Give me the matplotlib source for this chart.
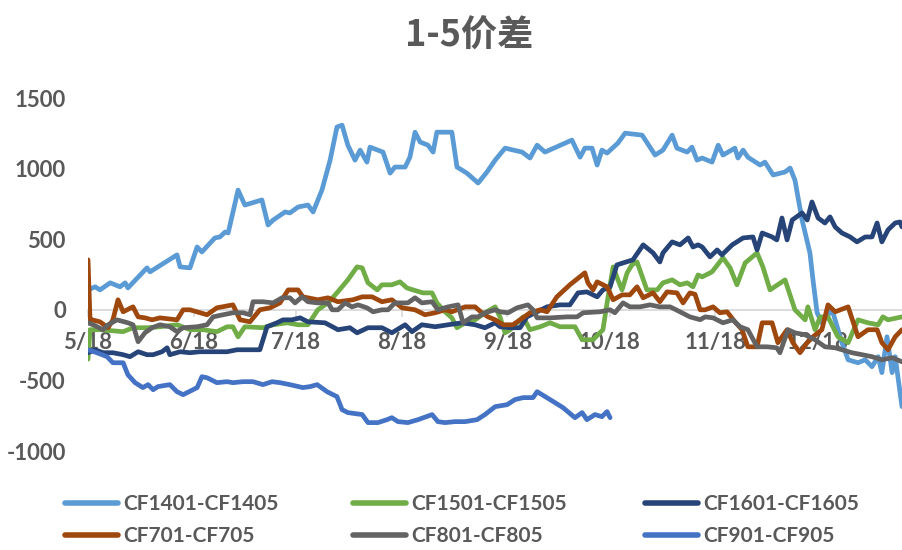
import matplotlib
matplotlib.use("Agg")
import matplotlib.pyplot as plt
from matplotlib.lines import Line2D

plt.rcParams['font.family'] = ['Lato', 'Noto Sans CJK SC', 'DejaVu Sans']
plt.rcParams['font.weight'] = 'bold'
plt.rcParams['axes.unicode_minus'] = False

TXT = '#595959'

# x axis: days counted from 5/18
month_days = [0, 31, 61, 92, 123, 153, 184, 214]
month_labels = ['5/18', '6/18', '7/18', '8/18', '9/18', '10/18', '11/18', '12/18']

# (day, spread) pairs
cf1401 = [(0, 141), (2.1, 163), (3.5, 141), (6.5, 191), (9.4, 163), (10.9, 191), (11.7, 155),
          (17.3, 297), (18.2, 269), (26.1, 389), (27, 304), (29.9, 297), (32, 445), (33.4, 410),
          (37.2, 509), (38.7, 516), (40.2, 551), (41.1, 544), (44, 848), (46, 742), (51, 778),
          (52.8, 601), (54.3, 636), (57.8, 693), (59.2, 686), (61.6, 728), (64.5, 742), (66, 693),
          (68.6, 848), (71, 1060), (73, 1294), (74.5, 1308), (76.2, 1166), (78.3, 1060),
          (79.8, 1131), (81.8, 1046), (82.7, 1152), (86.5, 1117), (88.6, 968), (90, 1011),
          (93, 1011), (94.4, 1081), (95.9, 1258), (97.4, 1188), (99.7, 1166), (101.2, 1117),
          (102.3, 1258), (106.7, 1258), (108.2, 1011), (111.1, 968), (114.4, 898), (117, 976),
          (119.4, 1060), (122.3, 1145), (127.3, 1117), (129.6, 1075), (131.7, 1166), (134, 1117),
          (141.9, 1202), (144.3, 1081), (145.7, 1145), (147.8, 1145), (149.3, 1025), (150.7, 1131),
          (152.2, 1110), (155.4, 1181), (157.5, 1251), (162.5, 1237), (166.3, 1096), (168.6, 1131),
          (171.3, 1237), (172.7, 1145), (175.7, 1117), (177.1, 1152), (178.6, 1060), (180.1, 1075),
          (183, 1046), (184.8, 1166), (186.2, 1096), (189.7, 1145), (190.6, 1075), (192.1, 1131),
          (193.5, 1081), (197.1, 1025), (198.5, 1046), (200.9, 955), (204.4, 976), (205.9, 1004),
          (207.3, 919), (209.4, 636), (211.7, 403), (212.6, 212), (213.8, -21), (215.2, -92),
          (218.2, 0), (221.1, -233), (222.9, -354), (225.8, -375), (227.9, -354), (229.9, -403),
          (231.7, -332), (232.8, -445), (234.3, -191), (235.8, -445), (236.7, -332), (238.7, -686)]

cf1501 = [(0, -350), (0.6, -141), (3.5, -141), (10.3, -155), (13.2, -127), (17.3, -127),
          (21.1, -120), (26.1, -106), (29.9, -141), (33.7, -141), (37.8, -155), (40.8, -120),
          (42.5, -120), (44, -191), (46, -120), (51.3, -127), (54.3, -106), (58.4, -92),
          (61.6, -106), (64.5, -106), (67.4, 0), (70.4, 49), (73, 120), (76.2, 212), (78.9, 304),
          (80.4, 297), (82.1, 191), (84.8, 141), (86.2, 177), (89.1, 177), (91.5, 198), (93.5, 155),
          (95.3, 141), (98.2, 120), (100.9, 120), (102.3, 49), (104.7, -14), (106.7, -57),
          (108.2, -127), (110.6, -92), (113.5, -71), (116.4, -21), (119.4, 21), (120.8, -50),
          (122.3, -163), (123.8, -141), (125.8, -92), (127.6, -50), (129.6, -141), (132.6, -120),
          (135.5, -92), (138.4, -120), (142.8, -120), (144.9, -212), (148.1, -212), (151, -141),
          (152.5, 92), (154, 304), (155.4, 212), (156.6, 141), (158.1, 262), (159.5, 318),
          (161, 339), (163.9, 141), (166.9, 141), (168.6, 191), (171.3, 212), (173.6, 177),
          (175.7, 191), (177.4, 163), (178.9, 247), (180.1, 233), (183, 269), (186.2, 368),
          (188.3, 297), (190.3, 177), (192.7, 332), (196.2, 403), (197.9, 304), (200, 141),
          (204.4, 212), (207.3, 0), (210.3, -71), (211.1, 21), (213.2, -141), (214.7, -50),
          (217, -50), (219.9, -191), (222.9, -233), (225.8, -71), (228.7, -92), (231.7, -106),
          (233.1, -50), (234.6, -71), (238.7, -50)]

cf1601 = [(0, -304), (2.1, -283), (4.4, -304), (7.3, -304), (10.3, -318), (12.3, -332),
          (14.7, -297), (17.3, -318), (19.1, -318), (21.7, -297), (23.2, -269), (24, -318),
          (27, -297), (29.9, -304), (32.8, -297), (36.7, -297), (40.8, -297), (43.7, -283),
          (46.6, -283), (50.4, -283), (52.5, -120), (55.4, -92), (57.2, -71), (59.8, -71),
          (62.2, -57), (64.5, -85), (69.5, -92), (73.3, -141), (76.8, -127), (78.9, -163),
          (82.1, -127), (86.2, -127), (89.1, -163), (93, -106), (95, -155), (97.9, -106),
          (101.8, -120), (105.6, -106), (109.7, -92), (113.5, -106), (116.4, -127), (119.4, -92),
          (120.8, -120), (123.8, -127), (126.7, -127), (128.7, -50), (131.7, -14), (134.6, 21),
          (138.4, 35), (141.3, 35), (143.7, 120), (146.3, 127), (149.3, 92), (151, 141),
          (153.1, 163), (155.1, 318), (156.9, 332), (159.8, 354), (162.8, 460), (165.7, 403),
          (167.7, 339), (168.6, 403), (171.3, 481), (173.6, 460), (176, 509), (177.4, 445),
          (178.9, 460), (180.1, 445), (182.4, 375), (184.5, 424), (185.9, 389), (188.9, 460),
          (192.1, 509), (195, 516), (196.2, 424), (197.7, 544), (200.6, 516), (202, 495),
          (203.5, 650), (205, 495), (206.5, 636), (209.4, 686), (210.9, 636), (212.3, 764),
          (214.1, 650), (216.1, 615), (217.6, 658), (219.1, 587), (221.1, 544), (223.5, 516),
          (225.5, 481), (227.9, 516), (229.9, 516), (231.4, 615), (232.8, 481), (234.6, 566),
          (236.7, 615), (238.1, 622), (238.7, 587)]

cf701 = [(0, 354), (0.6, -71), (1.2, -71), (3.5, -85), (5.9, -127), (7.3, -71), (8.8, 71),
         (10.3, -14), (13.2, 21), (14.7, -50), (16.7, -57), (18.8, -71), (21.1, -57), (26.1, -71),
         (27.9, 0), (29.9, 0), (34.9, -35), (37.8, 14), (42.5, 35), (44.6, -71), (47.5, -85),
         (50.4, 0), (53.4, 14), (56.3, 49), (58.7, 141), (61.6, 141), (63, 92), (67.4, 71),
         (70.4, 85), (73.3, 57), (77.7, 71), (80.4, 92), (83.3, 92), (86.2, 57), (89.1, 71),
         (92.1, 14), (95.9, 0), (98.8, -35), (101.8, -21), (104.7, 0), (106.7, -14), (110.6, 21),
         (113.5, 21), (115.5, -21), (117.3, -50), (119.4, -71), (121.7, -106), (124.6, -106),
         (126.7, -71), (129.6, -21), (132.6, 0), (134.6, -14), (137.5, 92), (141.3, 177),
         (145.7, 262), (146.6, 191), (148.1, 141), (149.3, 198), (152.2, 163), (154, 71),
         (156.6, 106), (158.9, 106), (161, 163), (162.8, 85), (165.7, 120), (167.7, 57),
         (169.8, 127), (172.7, 120), (174.5, 49), (176.5, 120), (178, 110), (179.5, 0), (181, 0),
         (183.3, 21), (185.3, -21), (187.4, -14), (189.7, -85), (191.8, -141), (193.5, -262),
         (196.2, -262), (197.7, -92), (200.6, -92), (202.3, -233), (205, -141), (206.7, -233),
         (208.8, -304), (210.9, -233), (212.6, -191), (215.2, -141), (217, 35), (219.1, -14),
         (222.9, 21), (225.8, -191), (228.7, -141), (231.4, -141), (232.8, -233), (234.6, -283),
         (236.7, -191), (238.7, -141)]

cf801 = [(0, -92), (1.5, -106), (4.4, -141), (5.9, -106), (8.5, -71), (11.7, -92), (13.2, -106),
         (14.7, -226), (16.7, -163), (18.8, -127), (21.1, -106), (24, -120), (26.1, -155),
         (27.9, -127), (32, -120), (34.9, -106), (36.7, -50), (39.6, -35), (42.5, -21),
         (45.5, -21), (47.5, -35), (48.4, 57), (51.3, 57), (54.3, 49), (56.9, 85), (59.2, 85),
         (60.7, 49), (62.8, 92), (64.5, 57), (67.4, 49), (70.4, 49), (71.6, 0), (73.3, 0),
         (75.4, 49), (77.4, 21), (79.2, 35), (81.8, 14), (83.6, -14), (86.2, 0), (88, 0),
         (90, 49), (93.8, 49), (95.9, 85), (97.9, 49), (100.9, 57), (102.6, 0), (105.6, 21),
         (108.5, 35), (110, -92), (112.6, -50), (114.4, -50), (116.4, -21), (119.4, 0),
         (120.8, -14), (123.2, -21), (125.8, 14), (129, 35), (130.5, 0), (131.7, -57),
         (135.5, -57), (140.5, -50), (143.4, -50), (145.2, -21), (150.1, -14), (153.1, 0),
         (154.5, -21), (156.9, 49), (158.9, 21), (161.9, 21), (164.8, 35), (167.7, 21),
         (170.7, 21), (173.6, -14), (176.5, -50), (179.5, -70), (181, -50), (183.3, -57),
         (186.2, -92), (189.1, -71), (191.2, -120), (193.5, -141), (196.2, -262), (199.1, -262),
         (202, -269), (202.9, -304), (205.3, -141), (207.3, -163), (210.3, -177), (213.2, -212),
         (216.1, -262), (219.1, -269), (221.1, -283), (224, -304), (227, -318), (229.9, -332),
         (232.8, -354), (235.8, -339), (238.7, -368)]

cf901 = [(0, -283), (2.6, -304), (5.6, -332), (7.3, -375), (10.3, -375), (11.7, -460),
         (13.8, -516), (16.1, -551), (17.6, -530), (19.1, -566), (20.5, -544), (24, -530),
         (26.1, -580), (27.9, -601), (32, -551), (33.4, -474), (34.9, -481), (37.8, -516),
         (40.8, -509), (42.5, -516), (45.5, -509), (48.4, -509), (51.3, -530), (54, -509),
         (56.3, -516), (59.2, -530), (63, -551), (65.1, -544), (67.2, -530), (70.1, -580),
         (73, -615), (74.5, -707), (76.2, -728), (80.4, -742), (82.1, -799), (85, -799),
         (87.7, -778), (89.1, -764), (90.9, -792), (93.8, -799), (96.8, -778), (100.9, -742),
         (102.6, -792), (104.7, -799), (107.6, -792), (110.6, -792), (114.1, -778), (116.4, -742),
         (119.4, -686), (122.9, -672), (125.2, -636), (127.6, -622), (130.5, -622), (131.7, -580),
         (135.5, -636), (139.3, -693), (142.8, -764), (144.9, -728), (146.3, -778), (148.7, -742),
         (150.7, -757), (152.2, -721), (153.1, -764)]

series = [
    ('CF1401-CF1405', cf1401, '#5B9BD5'),
    ('CF1501-CF1505', cf1501, '#70AD47'),
    ('CF1601-CF1605', cf1601, '#264478'),
    ('CF701-CF705', cf701, '#9E480E'),
    ('CF801-CF805', cf801, '#636363'),
    ('CF901-CF905', cf901, '#4472C4'),
]

LW = 3.4
FS = 16
LEG_FS = 15

fig = plt.figure(figsize=(9.02, 5.5), dpi=100)
ax = fig.add_axes([88 / 902, 0.18, 1 - 88 / 902, 0.6418])

handles = {}
for name, pts, col in series:
    xs, ys = zip(*pts)
    ln, = ax.plot(xs, ys, color=col, lw=LW, solid_joinstyle='round',
                  solid_capstyle='round', zorder=2)
    handles[name] = ln

ax.set_xlim(0, 238.7)
ax.set_ylim(-1000, 1500)
ax.set_yticks([-1000, -500, 0, 500, 1000, 1500])
ax.set_xticks(month_days)
ax.set_xticklabels(month_labels)

for s in ['left', 'right', 'top']:
    ax.spines[s].set_visible(False)
ax.spines['bottom'].set_position(('data', 0))
ax.spines['bottom'].set_color('#D9D9D9')
ax.spines['bottom'].set_linewidth(1.3)
ax.spines['bottom'].set_zorder(1)
ax.set_axisbelow(True)

ax.tick_params(axis='x', length=5, width=1.2, color='#D9D9D9', pad=11,
               labelsize=FS, labelcolor=TXT)
ax.tick_params(axis='y', length=0, pad=16, labelsize=FS, labelcolor=TXT)

fig.text(0.52, 0.935, '1-5价差', ha='center', va='center', fontsize=26,
         fontweight='bold', color=TXT, family=['Noto Sans CJK SC', 'DejaVu Sans'])

# legend: three columns, two rows
cols = [('CF1401-CF1405', 'CF701-CF705'),
        ('CF1501-CF1505', 'CF801-CF805'),
        ('CF1601-CF1605', 'CF901-CF905')]
col_x = [65 / 902, 353 / 902, 645 / 902]
for names, x0 in zip(cols, col_x):
    hs = [Line2D([], [], color=handles[n].get_color(), lw=LW + 0.6,
                 solid_capstyle='round') for n in names]
    lg = fig.legend(hs, names, loc='upper left', bbox_to_anchor=(x0, 0.102),
                    frameon=False, fontsize=LEG_FS, handlelength=2.55,
                    handletextpad=0.24, labelspacing=0.6, borderpad=0,
                    borderaxespad=0)
    for t in lg.get_texts():
        t.set_color(TXT)

fig.savefig('out.png', dpi=100)
